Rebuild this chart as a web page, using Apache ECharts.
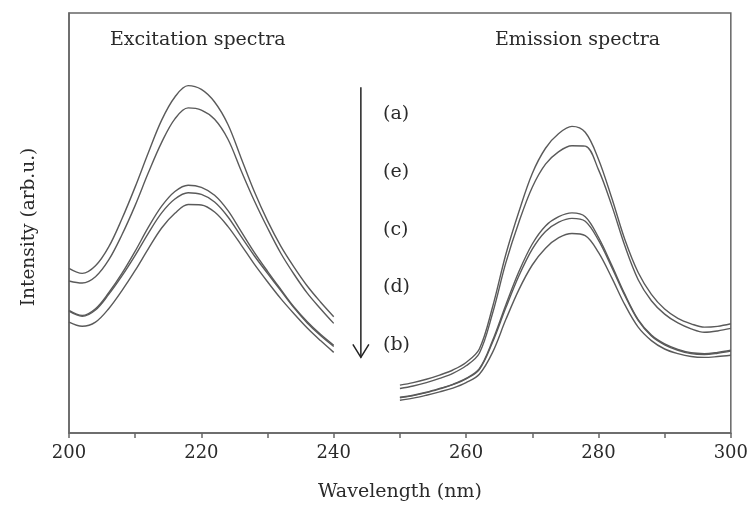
<!DOCTYPE html>
<html>
<head>
<meta charset="utf-8">
<script src="https://cdn.jsdelivr.net/npm/echarts@6/dist/echarts.min.js"></script>
<style>
  html, body { margin: 0; padding: 0; background: #fff; }
  #main { width: 751px; height: 508px; }
</style>
</head>
<body>
<div id="main"></div>
<script>
// wavelengths (nm)
var wlEx = [200, 202, 204, 206, 208, 210, 212, 214, 216, 218, 220, 222, 224, 226, 228, 230, 232, 234, 236, 238, 240];
var wlEm = [250, 252, 254, 256, 258, 260, 262, 264, 266, 268, 270, 272, 274, 276, 278, 280, 282, 284, 286, 288, 290, 292, 294, 296, 298, 300];

// excitation intensities (arb.u.)
var exA = [39.2, 38.0, 39.8, 44.3, 51.0, 58.6, 66.8, 74.5, 80.0, 82.7, 81.8, 78.8, 73.5, 65.5, 57.5, 50.5, 44.5, 39.5, 35.0, 31.2, 27.7];
var exE = [36.2, 35.7, 37.2, 41.2, 47.2, 54.2, 62.0, 69.2, 74.8, 77.4, 76.9, 74.7, 70.0, 62.5, 55.3, 48.8, 42.8, 37.8, 33.3, 29.6, 26.1];
var exC = [29.2, 28.0, 29.6, 33.4, 38.0, 43.3, 49.0, 54.0, 57.5, 59.0, 58.5, 56.6, 53.0, 48.0, 43.0, 38.5, 34.2, 30.0, 26.5, 23.5, 20.9];
var exD = [29.0, 27.8, 29.3, 33.0, 37.4, 42.3, 47.6, 52.4, 55.7, 57.2, 56.8, 55.0, 51.5, 46.8, 42.2, 38.0, 33.9, 29.8, 26.2, 23.2, 20.6];
var exB = [26.4, 25.4, 26.4, 29.6, 33.9, 38.7, 43.9, 48.8, 52.3, 54.4, 54.3, 52.6, 49.2, 44.8, 40.2, 36.0, 32.0, 28.4, 25.0, 22.0, 19.2];

// emission intensities (arb.u.)
var emA = [11.4, 12.0, 12.8, 13.8, 15.0, 16.8, 20.0, 30.0, 42.5, 52.8, 61.8, 67.8, 71.3, 73.0, 71.6, 65.2, 56.0, 46.0, 38.2, 33.0, 29.5, 27.3, 26.0, 25.2, 25.4, 26.0];
var emE = [10.6, 11.2, 12.0, 13.0, 14.2, 16.0, 19.0, 28.5, 40.5, 50.3, 58.5, 64.0, 67.0, 68.4, 68.3, 62.7, 54.2, 44.5, 36.5, 31.5, 28.3, 26.2, 24.8, 24.0, 24.3, 24.9];
var emC = [8.5, 9.0, 9.7, 10.6, 11.6, 13.0, 15.3, 22.0, 30.5, 38.5, 45.0, 49.3, 51.5, 52.4, 51.5, 46.6, 40.0, 33.0, 27.0, 23.3, 21.2, 19.9, 19.1, 18.9, 19.2, 19.7];
var emD = [8.4, 8.9, 9.6, 10.5, 11.5, 12.9, 15.1, 21.6, 29.8, 37.5, 43.8, 48.0, 50.2, 51.1, 50.4, 45.9, 39.5, 32.7, 26.8, 23.1, 21.0, 19.7, 18.9, 18.7, 19.0, 19.5];
var emB = [7.8, 8.3, 9.0, 9.8, 10.7, 12.0, 14.0, 19.2, 27.0, 34.2, 40.0, 44.0, 46.5, 47.5, 47.0, 43.0, 37.0, 30.5, 25.2, 22.0, 20.0, 18.9, 18.2, 18.0, 18.2, 18.5];

var sampleNames = ['(a)', '(e)', '(c)', '(d)', '(b)'];
var exAll = [exA, exE, exC, exD, exB];
var emAll = [emA, emE, emC, emD, emB];

// arrow: x position and start/end intensity
var arrowWl = 244.1;
var arrowFrom = 82.3;
var arrowTo = 18.0;

var serif = 'DejaVu Serif';
var ink = '#2a2a2a';

function pairs(xs, ys) {
    return xs.map(function (x, i) { return [x, ys[i]]; });
}

var chart = echarts.init(document.getElementById('main'));

var series = sampleNames.map(function (name, k) {
    return {
        name: name,
        type: 'line',
        smooth: 0.35,
        showSymbol: false,
        silent: true,
        // gap between the two spectra
        data: pairs(wlEx, exAll[k]).concat([[245, '-']], pairs(wlEm, emAll[k])),
        lineStyle: { color: '#5a5a5a', width: 1.4 }
    };
});

var option = {
    animation: false,
    backgroundColor: '#fff',
    grid: {
        left: 69, right: 18, top: 13, bottom: 75,
        show: true, borderColor: '#666', borderWidth: 1.5
    },
    xAxis: {
        type: 'value',
        min: 200, max: 300, interval: 20,
        name: 'Wavelength (nm)',
        nameLocation: 'middle',
        nameGap: 50,
        nameTextStyle: { fontFamily: serif, fontSize: 19, color: ink },
        axisLine: { lineStyle: { color: '#666', width: 1.5 } },
        axisTick: { length: 5, lineStyle: { color: '#666', width: 1.5 } },
        minorTick: { show: true, splitNumber: 2, length: 5, lineStyle: { color: '#666', width: 1.5 } },
        splitLine: { show: false },
        axisLabel: { fontFamily: serif, fontSize: 18, color: ink, margin: 11 }
    },
    yAxis: {
        type: 'value',
        min: 0, max: 100,
        name: 'Intensity (arb.u.)',
        nameLocation: 'middle',
        nameGap: 30,
        nameTextStyle: { fontFamily: serif, fontSize: 18.5, color: ink, padding: [0, 8, 0, 0] },
        axisLine: { show: true, lineStyle: { color: '#666', width: 1.5 } },
        axisTick: { show: false },
        axisLabel: { show: false },
        splitLine: { show: false }
    },
    series: series
};

chart.setOption(option);

// annotations
var p0 = chart.convertToPixel({ gridIndex: 0 }, [arrowWl, arrowFrom]);
var p1 = chart.convertToPixel({ gridIndex: 0 }, [arrowWl, arrowTo]);

var graphic = [
    {
        type: 'text', x: 110, y: 40,
        style: { text: 'Excitation spectra', font: '19px "' + serif + '"', fill: ink, textVerticalAlign: 'middle' }
    },
    {
        type: 'text', x: 495, y: 40,
        style: { text: 'Emission spectra', font: '19px "' + serif + '"', fill: ink, textVerticalAlign: 'middle' }
    },
    {
        type: 'line',
        shape: { x1: p0[0], y1: p0[1], x2: p1[0], y2: p1[1] },
        style: { stroke: '#222', lineWidth: 1.5 }
    },
    {
        type: 'polyline',
        shape: { points: [[p1[0] - 8, p1[1] - 13], [p1[0], p1[1]], [p1[0] + 8, p1[1] - 13]] },
        style: { stroke: '#222', lineWidth: 1.5, fill: null }
    }
];

var labelY = [114, 172, 230, 287, 345];
sampleNames.forEach(function (name, k) {
    graphic.push({
        type: 'text', x: 383, y: labelY[k],
        style: { text: name, font: '19px "' + serif + '"', fill: ink, textVerticalAlign: 'middle' }
    });
});

chart.setOption({ graphic: graphic });
</script>
</body>
</html>
